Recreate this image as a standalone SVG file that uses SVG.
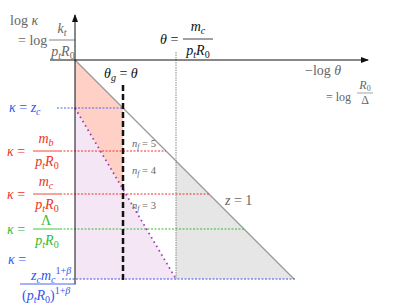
<svg xmlns="http://www.w3.org/2000/svg" width="407" height="305" viewBox="0 0 407 305" font-family="'Liberation Serif', serif">
<style>
.t{font-family:"Liberation Serif","Times New Roman",serif;font-size:14px}
.i{font-style:italic}
.n{font-style:normal}
.gr{fill:#666}
.bk{fill:#111}
.red{fill:#ee3322}
.grn{fill:#33bb33}
.blu{fill:#3355ee}
.s{font-size:10px}
.f9{font-size:12px}
.f8{font-size:10.5px}
.f6{font-size:8px}
.ax{stroke:#111;stroke-width:1;fill:none}
.dot{stroke-width:1;stroke-dasharray:2 1.5;fill:none}
</style>
<defs>
<marker id="ah" viewBox="0 0 8 6" refX="7" refY="3" markerWidth="8" markerHeight="6" markerUnits="userSpaceOnUse" orient="auto">
<path d="M0,0 L8,3 L0,6 Z" fill="#111"/>
</marker>
</defs>
<g id="regions">
<polygon points="75,108 176,279 75,279" fill="#f4e6f4"/>
<polygon points="75,60 123,108 123,189 75,108" fill="#ffd0c6"/>
<polygon points="176,161 294,279 176,279" fill="#e6e6e6"/>
</g>
<g id="connectors">
<line x1="75" y1="60" x2="294" y2="279" stroke="#999" stroke-width="1.2"/>
<line x1="57" y1="108" x2="123" y2="108" class="dot" stroke="#4466ee"/>
<line x1="60" y1="151" x2="166" y2="151" class="dot" stroke="#ee3322"/>
<line x1="60" y1="194" x2="209" y2="194" class="dot" stroke="#ee3322"/>
<line x1="60" y1="229" x2="245" y2="229" class="dot" stroke="#33bb33"/>
<line x1="62" y1="279" x2="295" y2="279" class="dot" stroke="#3355ee"/>
<line x1="75" y1="108" x2="176" y2="279" stroke="#a040b0" stroke-width="1.8" stroke-dasharray="1.6 3.4"/>
<line x1="176" y1="52" x2="176" y2="280" stroke="#888" stroke-width="1" stroke-dasharray="1.5 1"/>
<line x1="123" y1="85" x2="123" y2="280" stroke="#111" stroke-width="2.5" stroke-dasharray="6 3"/>
<line x1="75" y1="284" x2="75" y2="15" class="ax" marker-end="url(#ah)"/>
<line x1="50" y1="60" x2="368" y2="60" class="ax" marker-end="url(#ah)"/>
</g>
<g id="ylabel">
<text x="10" y="25" class="t gr">log <tspan class="i">κ</tspan></text>
<text x="18" y="45" class="t gr">= log</text>
<text x="62" y="33" class="t gr i" text-anchor="middle">k<tspan class="s" dy="3">t</tspan></text>
<line x1="49" y1="40" x2="76" y2="40" stroke="#666" stroke-width="0.8"/>
<text x="63" y="56" class="t gr i" text-anchor="middle">p<tspan class="s" dy="3">t</tspan><tspan dy="-3">R</tspan><tspan class="s n" dy="3">0</tspan></text>
</g>
<g id="xlabel">
<text x="305" y="75" class="t gr">−log <tspan class="i">θ</tspan></text>
<text x="326" y="101" class="t gr f9">= log</text>
<text x="365" y="89" class="t gr i f9" text-anchor="middle">R<tspan class="f6 n" dy="2">0</tspan></text>
<line x1="357" y1="93" x2="373" y2="93" stroke="#666" stroke-width="0.6"/>
<text x="365" y="104" class="t gr f9" text-anchor="middle">Δ</text>
</g>
<g id="theta-g">
<text x="104" y="78" class="t bk"><tspan class="i">θ</tspan><tspan class="s i" dy="3">g</tspan><tspan dy="-3"> = </tspan><tspan class="i">θ</tspan></text>
</g>
<g id="theta-mc">
<text x="160" y="44" class="t bk"><tspan class="i">θ</tspan> =</text>
<text x="198" y="31" class="t bk i" text-anchor="middle">m<tspan class="s" dy="3">c</tspan></text>
<line x1="183" y1="39" x2="213" y2="39" stroke="#111" stroke-width="0.8"/>
<text x="198" y="55" class="t bk i" text-anchor="middle">p<tspan class="s" dy="3">t</tspan><tspan dy="-3">R</tspan><tspan class="s n" dy="3">0</tspan></text>
</g>
<g id="z1">
<text x="225" y="205" class="t gr"><tspan class="i">z</tspan> = 1</text>
</g>
<g id="nf">
<text x="132" y="147" class="t gr i f8">n<tspan class="f6" dy="2">f</tspan><tspan class="n" dy="-2"> = 5</tspan></text>
<text x="132" y="174" class="t gr i f8">n<tspan class="f6" dy="2">f</tspan><tspan class="n" dy="-2"> = 4</tspan></text>
<text x="132" y="209" class="t gr i f8">n<tspan class="f6" dy="2">f</tspan><tspan class="n" dy="-2"> = 3</tspan></text>
</g>
<g id="k-zc">
<text x="9" y="112" class="t blu"><tspan class="i">κ</tspan> = <tspan class="i">z</tspan><tspan class="s i" dy="3">c</tspan></text>
</g>
<g id="k-mb">
<text x="7" y="156" class="t red"><tspan class="i">κ</tspan> =</text>
<text x="46" y="143" class="t red i" text-anchor="middle">m<tspan class="s" dy="3">b</tspan></text>
<line x1="33" y1="151" x2="60" y2="151" stroke="#ee3322" stroke-width="0.9"/>
<text x="47" y="166" class="t red i" text-anchor="middle">p<tspan class="s" dy="3">t</tspan><tspan dy="-3">R</tspan><tspan class="s n" dy="3">0</tspan></text>
</g>
<g id="k-mc">
<text x="7" y="199" class="t red"><tspan class="i">κ</tspan> =</text>
<text x="46" y="186" class="t red i" text-anchor="middle">m<tspan class="s" dy="3">c</tspan></text>
<line x1="33" y1="194" x2="60" y2="194" stroke="#ee3322" stroke-width="0.9"/>
<text x="47" y="209" class="t red i" text-anchor="middle">p<tspan class="s" dy="3">t</tspan><tspan dy="-3">R</tspan><tspan class="s n" dy="3">0</tspan></text>
</g>
<g id="k-lambda">
<text x="7" y="234" class="t grn"><tspan class="i">κ</tspan> =</text>
<text x="46" y="225" class="t grn" text-anchor="middle">Λ</text>
<line x1="33" y1="229" x2="60" y2="229" stroke="#33bb33" stroke-width="0.9"/>
<text x="47" y="245" class="t grn i" text-anchor="middle">p<tspan class="s" dy="3">t</tspan><tspan dy="-3">R</tspan><tspan class="s n" dy="3">0</tspan></text>
</g>
<g id="k-bottom">
<text x="8" y="264" class="t blu"><tspan class="i">κ</tspan> =</text>
<text x="31" y="280" class="t blu i">z<tspan class="s" dy="3">c</tspan><tspan dy="-3">m</tspan><tspan class="s" dy="3">c</tspan><tspan class="s n" dy="-9">1+</tspan><tspan class="s">β</tspan></text>
<line x1="20" y1="284" x2="76" y2="284" stroke="#3355ee" stroke-width="0.9"/>
<text x="22" y="300" class="t blu">(<tspan class="i">p</tspan><tspan class="s i" dy="3">t</tspan><tspan class="i" dy="-3">R</tspan><tspan class="s" dy="3">0</tspan><tspan dy="-3">)</tspan><tspan class="s" dy="-6">1+</tspan><tspan class="s i">β</tspan></text>
</g>
</svg>
